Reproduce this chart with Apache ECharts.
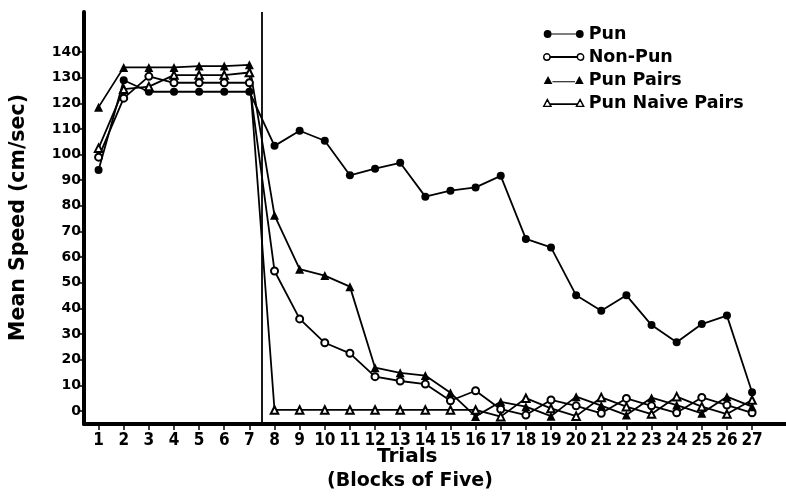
<!DOCTYPE html>
<html>
<head>
<meta charset="utf-8">
<script src="https://cdn.jsdelivr.net/npm/echarts@6/dist/echarts.min.js"></script>
<style>
html,body{margin:0;padding:0;background:#fff;}
#c{width:786px;height:498px;}
</style>
</head>
<body>
<div id="c"></div>
<script>
// ---- data ----
var trials = [1,2,3,4,5,6,7,8,9,10,11,12,13,14,15,16,17,18,19,20,21,22,23,24,25,26,27];
var yTickValues = [0,10,20,30,40,50,60,70,80,90,100,110,120,130,140];
var seriesNames = ['Pun','Non-Pun','Pun Pairs','Pun Naive Pairs'];
var pun =       [94, 129, 124.5, 124.5, 124.5, 124.5, 124.5, 103.4, 109.3, 105.4, 91.9, 94.5, 96.8, 83.6, 85.9, 87.2, 91.7, 67.1, 63.8, 45.1, 39.1, 45.1, 33.5, 26.8, 33.9, 37.2, 7.3];
var nonPun =    [99, 122, 130.5, 128, 128, 128, 128, 54.6, 35.9, 26.6, 22.5, 13.4, 11.7, 10.5, 4, 7.9, 0.7, -1.6, 4.3, 2, -0.9, 4.9, 2, -0.7, 5.3, 2.3, -0.7];
var punPairs =  [118.5, 134, 134, 134, 134.5, 134.5, 135, 76.3, 55.3, 52.8, 48.5, 16.9, 14.9, 13.8, 7.1, -2.1, 3.6, 1.7, -2, 5.6, 2.1, -1.6, 5.2, 2.3, -0.9, 5.6, 1.7];
var punNaive =  [102.5, 125.5, 126.5, 131, 131, 131, 132, 0.4, 0.4, 0.4, 0.4, 0.4, 0.4, 0.4, 0.4, 0.4, -2.2, 5, 1, -2, 5.3, 1.7, -1.2, 5.6, 1.7, -1.2, 4.3];
var dividerAt = 7.5;

function pairs(vals){ return trials.map(function(t,i){ return [t, vals[i]]; }); }

var chart = echarts.init(document.getElementById('c'), null, {renderer:'canvas'});

var numFont = "'DejaVu Sans', sans-serif";
var xFont = "'Liberation Sans Narrow', 'DejaVu Sans Condensed', 'Liberation Sans', sans-serif";

function mkSeries(name, vals, symbol, size, filled){
  return {
    name: name,
    type: 'line',
    data: pairs(vals),
    symbol: symbol,
    symbolSize: size,
    showAllSymbol: true,
    lineStyle: {color:'#000', width:1.8},
    itemStyle: {color:'#000', borderColor:'#000', borderWidth: filled ? 0 : 1.6},
    emphasis: {disabled:true},
    animation:false,
    z: 3
  };
}

var circ  = 'M0,5 a4.5,4.5 0 1,0 9,0 a4.5,4.5 0 1,0 -9,0 Z M9,4.3 H37 V5.7 H9 Z M37,5 a4.5,4.5 0 1,0 9,0 a4.5,4.5 0 1,0 -9,0 Z';
var circO = 'M1,5 a3.5,3.5 0 1,0 7,0 a3.5,3.5 0 1,0 -7,0 Z M8,4.8 H38 V5.2 H8 Z M38,5 a3.5,3.5 0 1,0 7,0 a3.5,3.5 0 1,0 -7,0 Z';
var tri   = 'M0,10 L5,1 L10,10 Z M10,6.8 H36 V8.2 H10 Z M36,10 L41,1 L46,10 Z';
var triO  = 'M1,10 L5,2.5 L9,10 Z M9,7.3 H37 V7.7 H9 Z M37,10 L41,2.5 L45,10 Z';

var s0 = mkSeries('Pun', pun, 'circle', 8, true);
s0.markLine = {
  silent:true, symbol:['none','none'], label:{show:false},
  lineStyle:{color:'#000', width:1.8, type:'solid'},
  data:[{xAxis: dividerAt}], animation:false
};

var option = {
  backgroundColor:'#fff',
  animation:false,
  grid:{left:84, right:0, top:12, bottom:74, containLabel:false},
  xAxis:{
    type:'value', min:0.42, max:28.35,
    splitLine:{show:false},
    axisLine:{onZero:false, lineStyle:{color:'#000', width:4}},
    axisTick:{show:true, length:6, lineStyle:{color:'#000', width:1.5}, customValues: trials},
    axisLabel:{customValues: trials, color:'#000', fontFamily:xFont, fontWeight:'bold', fontSize:17, margin:8,
      formatter:function(v){return String(Math.round(v));}}
  },
  yAxis:{
    type:'value', min:-5.07, max:155.6,
    splitLine:{show:false},
    axisLine:{onZero:false, lineStyle:{color:'#000', width:4}},
    axisTick:{show:true, length:6, lineStyle:{color:'#000', width:1.5}, customValues: yTickValues},
    axisLabel:{customValues: yTickValues, color:'#000', fontFamily:numFont, fontWeight:'bold', fontSize:14, margin:3,
      formatter:function(v){return String(Math.round(v));}}
  },
  legend:{
    orient:'vertical', left:538, top:20,
    itemWidth:40, itemHeight:9, itemGap:5,
    textStyle:{color:'#000', fontFamily:numFont, fontWeight:'bold', fontSize:17.5, lineHeight:18, padding:[0,0,0,0]},
    selectedMode:false,
    data:[
      {name:'Pun', icon:'path://'+circ, itemStyle:{color:'#000', borderWidth:0}},
      {name:'Non-Pun', icon:'path://'+circO, itemStyle:{color:'#fff', borderColor:'#000', borderWidth:1.4}},
      {name:'Pun Pairs', icon:'path://'+tri, itemStyle:{color:'#000', borderWidth:0}},
      {name:'Pun Naive Pairs', icon:'path://'+triO, itemStyle:{color:'#fff', borderColor:'#000', borderWidth:1.4}}
    ]
  },
  graphic:[
    {type:'text', left:8, top:94, rotation:Math.PI/2, z:10,
      style:{text:'Mean Speed (cm/sec)', fill:'#000', font:"bold 20.5px 'DejaVu Sans', sans-serif"}},
    {type:'text', left:377, top:447, z:10,
      style:{text:'Trials', fill:'#000', font:"bold 20px 'DejaVu Sans', sans-serif"}},
    {type:'text', left:327, top:472, z:10,
      style:{text:'(Blocks of Five)', fill:'#000', font:"bold 19px 'DejaVu Sans', sans-serif"}}
  ],
  series:[
    s0,
    mkSeries('Non-Pun', nonPun, 'emptyCircle', 7, false),
    mkSeries('Pun Pairs', punPairs, 'triangle', 9, true),
    mkSeries('Pun Naive Pairs', punNaive, 'emptyTriangle', 7.5, false)
  ]
};
chart.setOption(option);
</script>
</body>
</html>
